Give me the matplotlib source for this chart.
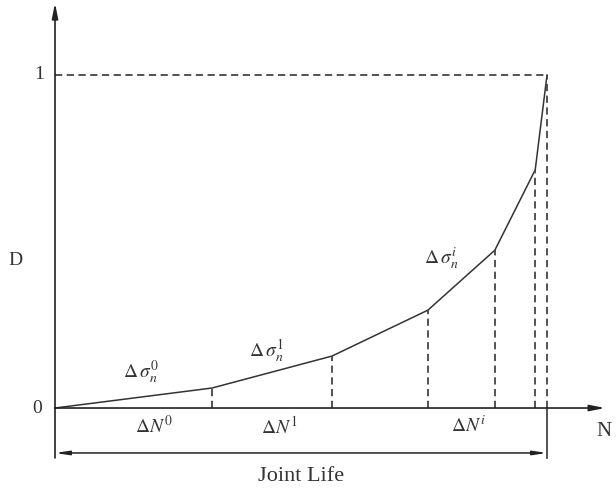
import matplotlib
matplotlib.use("Agg")
import matplotlib.pyplot as plt

plt.rcParams["font.family"] = ["Liberation Serif", "DejaVu Serif"]
plt.rcParams["mathtext.fontset"] = "stix"

# damage curve: cycle fraction N vs. accumulated damage D
N_pts = [0.0, 0.319, 0.563, 0.758, 0.894, 0.976, 1.0]
D_pts = [0.0, 0.060, 0.156, 0.294, 0.474, 0.715, 1.0]

stress_labels = [r"$\Delta\,\sigma_n^0$", r"$\Delta\,\sigma_n^1$", r"$\Delta\,\sigma_n^i$"]
stress_pos = [(0.175, 0.108), (0.43, 0.17), (0.785, 0.45)]
cycle_labels = [r"$\Delta N^0$", r"$\Delta N^1$", r"$\Delta N^i$"]
cycle_x = [0.2, 0.455, 0.84]

ink = "#333333"
fig = plt.figure(figsize=(6.16, 4.91), dpi=100)
ax = fig.add_axes([0, 0, 1, 1])
ax.set_xlim(-0.1118, 1.1402)
ax.set_ylim(-0.2492, 1.2252)
ax.axis("off")

# curve
ax.plot(N_pts, D_pts, color=ink, lw=1.1)

# dashed drop lines and the D = 1 guide
dash = dict(color="#444444", lw=1.3, linestyle=(0, (4, 2.5)))
for n, d in zip(N_pts[1:], D_pts[1:]):
    ax.plot([n, n], [0, d], **dash)
ax.plot([0, 1], [1, 1], **dash)

# axes with arrows
head = dict(arrowstyle="-|>,head_length=0.9,head_width=0.18", color="#222222", lw=1.2,
            shrinkA=0, shrinkB=0)
ax.annotate("", xy=(0, 1.216), xytext=(0, -0.15), arrowprops=head)
ax.annotate("", xy=(1.118, 0), xytext=(0, 0), arrowprops=head)

# joint life bracket
ax.plot([1, 1], [0, -0.15], color=ink, lw=1.2)
life = dict(arrowstyle="<|-|>,head_length=0.8,head_width=0.12", color="#222222", lw=1.1,
            shrinkA=0, shrinkB=0)
ax.annotate("", xy=(1, -0.135), xytext=(0, -0.135), arrowprops=life)

# labels
ax.text(-0.037, 0, "0", fontsize=14, color=ink, ha="center", va="center")
ax.text(-0.033, 1, "1", fontsize=14, color=ink, ha="center", va="center")
ax.text(-0.081, 0.444, "D", fontsize=14, color=ink, ha="center", va="center")
ax.text(1.115, -0.072, "N", fontsize=15, color=ink, ha="center", va="center")
for s, (x, y) in zip(stress_labels, stress_pos):
    ax.text(x, y, s, fontsize=14, color=ink, ha="center", va="center")
for s, x in zip(cycle_labels, cycle_x):
    ax.text(x, -0.055, s, fontsize=14, color=ink, ha="center", va="center")
ax.text(0.5, -0.205, "Joint Life", fontsize=16, color=ink, ha="center", va="center")

fig.savefig("out.png", dpi=100)
